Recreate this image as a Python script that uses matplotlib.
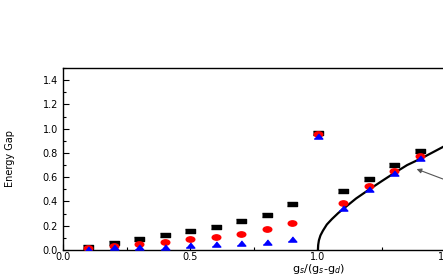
import matplotlib
matplotlib.use('Agg')
import matplotlib.pyplot as plt
from matplotlib.path import Path
from matplotlib.transforms import Affine2D
from matplotlib.ticker import MultipleLocator

# data
x = [0.1, 0.2, 0.3, 0.4, 0.5, 0.6, 0.7, 0.8, 0.9, 1.0, 1.1, 1.2, 1.3, 1.4]
black = [0.027, 0.06, 0.088, 0.12, 0.155, 0.193, 0.237, 0.29, 0.38, 0.966, 0.486, 0.588, 0.704, 0.814]
red = [0.015, 0.033, 0.052, 0.069, 0.091, 0.11, 0.135, 0.171, 0.223, 0.955, 0.389, 0.527, 0.654, 0.772]
blue = [0.008, 0.022, 0.025, 0.027, 0.038, 0.047, 0.055, 0.069, 0.088, 0.94, 0.345, 0.502, 0.635, 0.759]

curve_x = [1.0, 1.001, 1.004, 1.01, 1.02, 1.035, 1.055, 1.08, 1.106, 1.15, 1.2, 1.25, 1.3, 1.35, 1.41, 1.5]
curve_y = [0.0, 0.04, 0.08, 0.12, 0.16, 0.21, 0.255, 0.305, 0.35, 0.425, 0.497, 0.567, 0.635, 0.70, 0.76, 0.86]

# flattened marker shapes
rect = [(-1, -0.55), (1, -0.55), (1, 0.55), (-1, 0.55)]
tri = [(-1, -0.6), (1, -0.6), (0, 0.6)]
ell = Path.unit_circle().transformed(Affine2D().scale(1, 0.62))

fig = plt.figure(figsize=(4.43, 2.77), dpi=100)
ax = fig.add_axes([0.142, 0.0975, 0.8634, 0.657])

ax.plot(curve_x, curve_y, color='black', lw=1.6, zorder=2)
ax.plot(x, black, ls='none', marker=rect, ms=6.5, color='black', zorder=3)
ax.plot(x, red, ls='none', marker=ell, ms=6.2, color='red', zorder=4)
ax.plot(x, blue, ls='none', marker=tri, ms=6.2, color='blue', zorder=5)

ax.annotate('', xy=(1.377, 0.675), xytext=(1.56, 0.53),
            arrowprops=dict(arrowstyle='-|>', color='#555555', lw=0.8,
                            mutation_scale=7), annotation_clip=False)

ax.set_xlim(0, 1.5)
ax.set_ylim(0, 1.5)
ax.xaxis.set_major_locator(MultipleLocator(0.5))
ax.xaxis.set_minor_locator(MultipleLocator(0.25))
ax.yaxis.set_major_locator(MultipleLocator(0.2))
ax.yaxis.set_minor_locator(MultipleLocator(0.1))
ax.tick_params(which='both', direction='in', top=False, right=False, width=0.8)
ax.tick_params(which='major', length=4, labelsize=7, pad=3.5)
ax.tick_params(axis='x', which='major', pad=1.5)
ax.tick_params(which='minor', length=2.5)

for s in ax.spines.values():
    s.set_linewidth(1.0)

ax.set_ylabel('Energy Gap', fontsize=7, family=['Liberation Sans Narrow', 'DejaVu Sans'])
ax.yaxis.set_label_coords(-0.125, 0.5)
ax.set_xlabel(r'g$_s$/(g$_s$-g$_d$)', fontsize=8)
ax.xaxis.set_label_coords(0.667, -0.066)

fig.savefig('out.png', dpi=100)
